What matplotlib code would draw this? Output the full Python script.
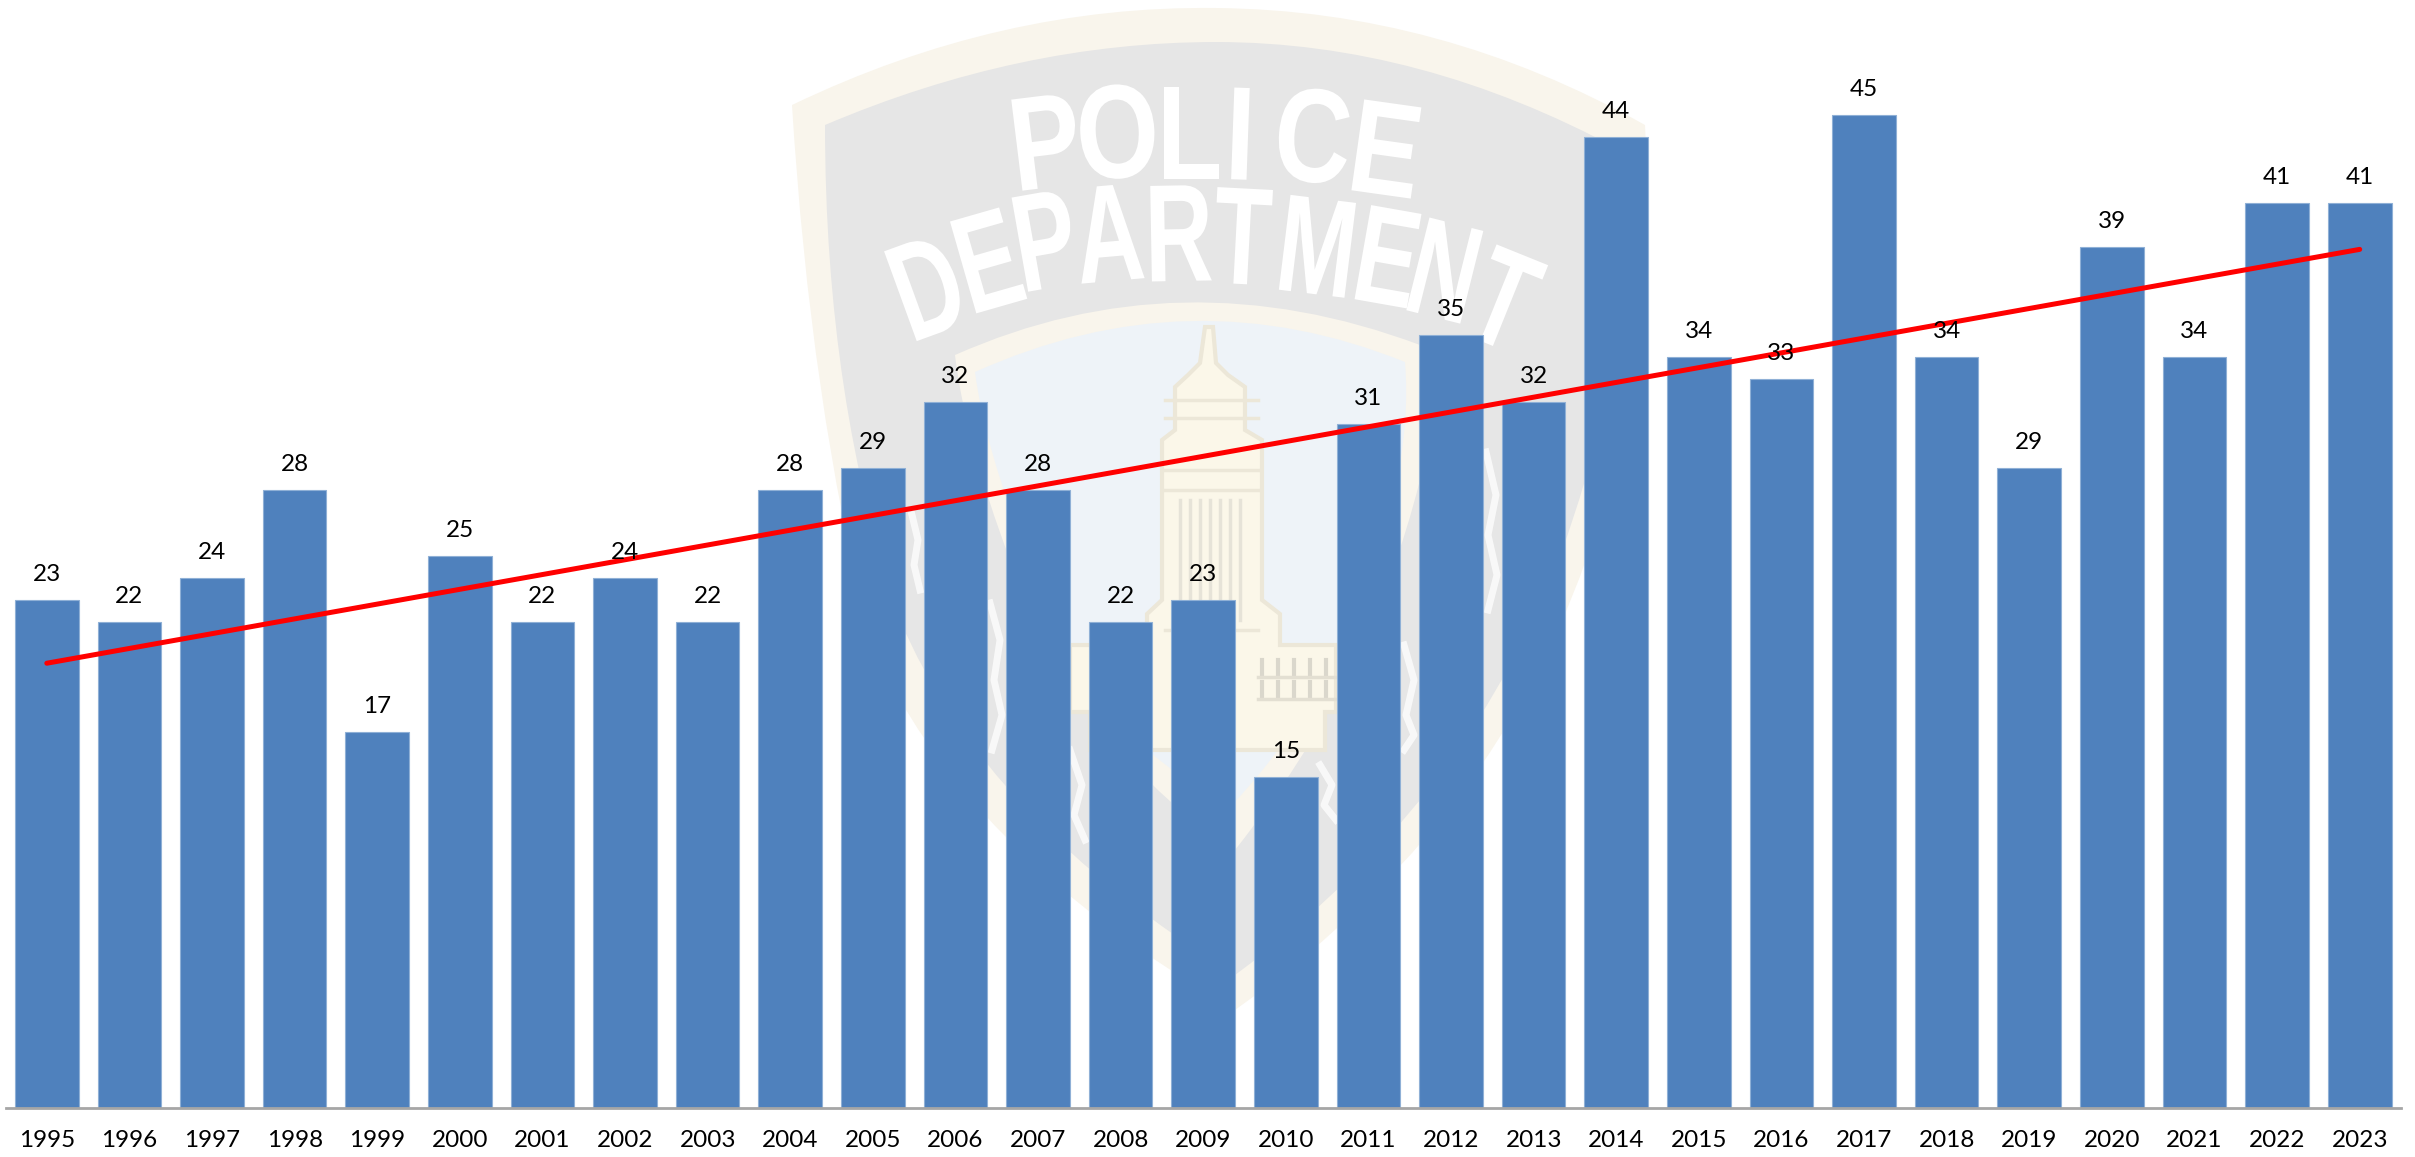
import matplotlib
matplotlib.use("Agg")
import matplotlib.pyplot as plt
from matplotlib.patches import PathPatch, Polygon
from matplotlib.path import Path
from matplotlib.patheffects import AbstractPathEffect
from matplotlib.transforms import Affine2D
import numpy as np

years = list(range(1995, 2024))
counts = [23, 22, 24, 28, 17, 25, 22, 24, 22, 28, 29, 32, 28, 22, 23, 15, 31, 35, 32, 44,
          34, 33, 45, 34, 29, 39, 34, 41, 41]

plt.rcParams['font.family'] = ['Lato', 'DejaVu Sans']
fig = plt.figure(figsize=(24.15, 11.57), dpi=100)


class Squeeze(AbstractPathEffect):
    # squeezes a glyph along its own baseline, about its centre
    def __init__(self, sx):
        super().__init__()
        self.sx = sx

    def draw_path(self, renderer, gc, tpath, affine, rgbFace=None):
        cx = tpath.get_extents().x0 + tpath.get_extents().width / 2
        squeeze = Affine2D().translate(-cx, 0).scale(self.sx, 1).translate(cx, 0)
        renderer.draw_path(gc, tpath, squeeze + affine, rgbFace)


def blob(bg, pts, color, z=1):
    # pts: first point then pairs of (control, end) for quadratic curves
    codes = [Path.MOVETO] + [Path.CURVE3] * (len(pts) - 1)
    bg.add_patch(PathPatch(Path(pts, codes), fc=color, ec='none', zorder=z))


# faded badge behind the bars, pixel coordinates
bg = fig.add_axes([0, 0, 1, 1], zorder=0)
bg.set_xlim(0, 2415)
bg.set_ylim(1157, 0)
bg.axis('off')

blob(bg, [(792, 105), (1000, 5), (1216, 8), (1440, 10), (1645, 125), (1655, 300), (1610, 480),
          (1530, 800), (1235, 1010), (960, 850), (870, 640), (810, 400), (792, 105)], '#F9F5EC', 1)
blob(bg, [(825, 125), (1020, 42), (1216, 42), (1420, 42), (1620, 150), (1625, 300), (1585, 480),
          (1500, 780), (1235, 975), (985, 820), (900, 620), (825, 400), (825, 125)], '#E6E6E6', 2)
blob(bg, [(955, 355), (1180, 255), (1420, 345), (1440, 400), (1420, 480), (1370, 680), (1235, 850),
          (1090, 760), (1010, 560), (965, 440), (955, 355)], '#F9F5EC', 3)
blob(bg, [(975, 372), (1190, 275), (1405, 362), (1410, 420), (1395, 490), (1350, 680), (1232, 805),
          (1090, 740), (1030, 560), (985, 450), (975, 372)], '#EEF3F8', 4)

# tower
tower_x = [1205, 1213, 1216, 1228, 1245, 1245, 1262, 1262, 1280, 1280, 1336, 1336, 1325, 1325, 1090,
           1090, 1070, 1070, 1147, 1147, 1162, 1162, 1175, 1175, 1188, 1200]
tower_y = [327, 327, 363, 375, 387, 430, 440, 600, 614, 645, 645, 712, 712, 750, 750,
           712, 712, 645, 645, 614, 600, 440, 430, 387, 375, 363]
bg.add_patch(Polygon(list(zip(tower_x, tower_y)), fc='#FBF7E9', ec='#ECE7D8', lw=3, zorder=5))
for sx in np.arange(1180, 1245, 10):
    bg.plot([sx, sx], [500, 620], color='#E6E3D8', lw=2.5, zorder=6)
for wy in [400, 418, 470, 490, 630]:
    bg.plot([1165, 1258], [wy, wy], color='#ECE7D8', lw=2.5, zorder=6)
for wy in [668, 690]:
    for wx in np.arange(1262, 1330, 16):
        bg.plot([wx, wx], [wy - 8, wy + 8], color='#DAD7CC', lw=3, zorder=6)
    bg.plot([1258, 1335], [wy + 9, wy + 9], color='#E3DFD2', lw=2.5, zorder=6)

# white rope around the seal
rope_x = [[912, 918, 914, 920], [990, 1000, 994, 1002, 992], [1070, 1082, 1074, 1085],
          [1320, 1332, 1324, 1336], [1404, 1414, 1406, 1414, 1404], [1486, 1496, 1488, 1497, 1488]]
rope_y = [[515, 540, 565, 590], [603, 640, 680, 715, 750], [750, 785, 815, 840],
          [765, 785, 805, 820], [645, 680, 715, 735, 750], [452, 495, 535, 575, 610]]
for xs, ys in zip(rope_x, rope_y):
    bg.plot(xs, ys, color='#FFFFFF', lw=5, zorder=5, alpha=0.75)

police = list('POLICE')
police_x = [1046, 1118, 1189, 1240, 1312, 1384]
police_y = [153, 143, 144, 145, 147, 160]
police_rot = [7, 3, 0, -2, -5, -8]
for ch, lx, ly, r in zip(police, police_x, police_y, police_rot):
    t = bg.text(lx, ly, ch, color='white', fontsize=96, family='Liberation Sans', weight='bold',
                ha='center', va='center', rotation=r, zorder=7)
    t.set_path_effects([Squeeze(0.8)])

dept = list('DEPARTMENT')
dept_x = [930, 990, 1046, 1110, 1178, 1242, 1316, 1385, 1442, 1500]
dept_y = [298, 272, 252, 245, 245, 248, 258, 268, 282, 310]
dept_rot = [20, 16, 10, 5, 1, -3, -7, -10, -14, -22]
for ch, lx, ly, r in zip(dept, dept_x, dept_y, dept_rot):
    t = bg.text(lx, ly, ch, color='white', fontsize=100, family='Liberation Sans', weight='bold',
                ha='center', va='center', rotation=r, zorder=7)
    t.set_path_effects([Squeeze(0.68)])

# main chart
ax = fig.add_axes([5.5 / 2415, (1157 - 1107.5) / 1157, (2401 - 5.5) / 2415, 1107.5 / 1157], zorder=1)
ax.patch.set_alpha(0)
ax.bar(years, counts, width=0.77, color='#4F81BD', edgecolor='#8FB0D6', linewidth=0.8, zorder=2)

fit = np.polyfit(years, counts, 1)
ax.plot([years[0], years[-1]], np.polyval(fit, [years[0], years[-1]]), color='#FF0000', lw=3.6,
        zorder=3, solid_capstyle='round')

for yr, c in zip(years, counts):
    ax.annotate(str(c), (yr, c), xytext=(0, 15), textcoords='offset pixels', ha='center', va='bottom',
                fontsize=17.5, color='black', zorder=4)

ax.set_xlim(1994.5, 2023.5)
ax.set_ylim(0, 50.2)
ax.set_xticks(years)
ax.set_xticklabels([str(y) for y in years], fontsize=17.5)
ax.tick_params(axis='x', length=0, pad=16)
ax.set_yticks([])
for s in ['top', 'left', 'right']:
    ax.spines[s].set_visible(False)
ax.spines['bottom'].set_color('#A6A6A6')
ax.spines['bottom'].set_linewidth(2)

fig.savefig('out.png', dpi=100)
